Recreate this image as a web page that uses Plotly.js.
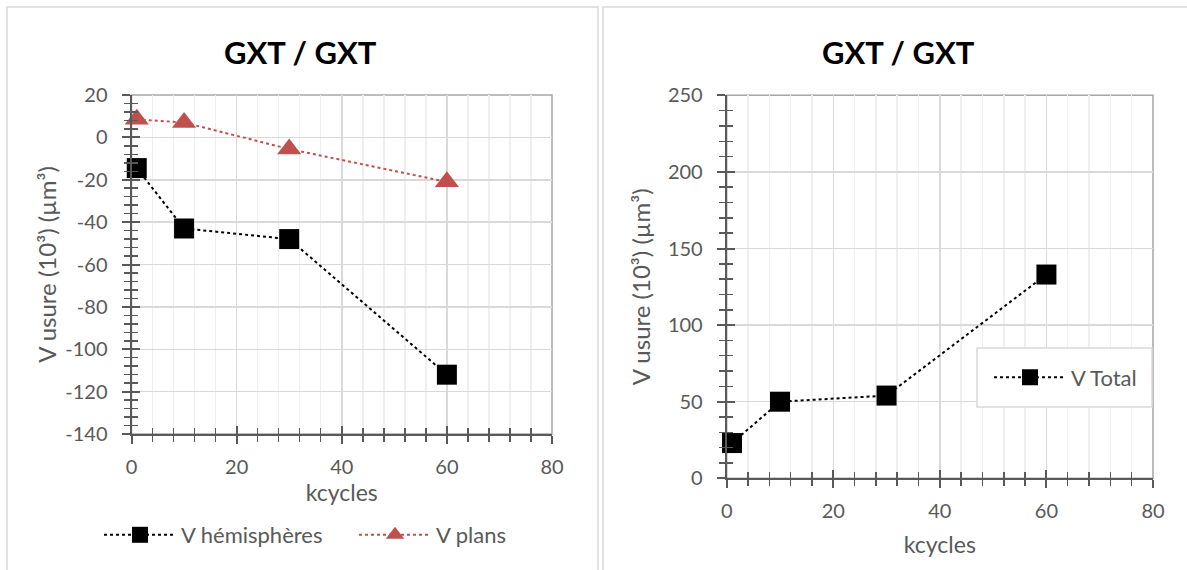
<!DOCTYPE html>
<html>
<head>
<meta charset="utf-8">
<script src="https://cdn.plot.ly/plotly-3.0.1.min.js"></script>
<style>html,body{margin:0;padding:0;background:#fff;}#chart{width:1187px;height:570px;}</style>
</head>
<body>
<div id="chart"></div>
<script>
// ---- data ----
const kcycles = [1, 10, 30, 60];
const vHemispheres = [-14.5, -43, -48, -112];
const vPlans = [8.5, 7, -5.5, -21];
const vTotal = [23, 50, 54, 133];
const leftYTickVals = [-140, -120, -100, -80, -60, -40, -20, 0, 20];
const leftYTickText = ["-140", "-120", "-100", "-80", "-60", "-40", "-20", "0", "20"];
const chartTitle = "GXT / GXT";
const xTitle = "kcycles";
const yTitle = "V usure (10³) (µm³)";
const nameHem = "V hémisphères";
const namePlans = "V plans";
const nameTotal = "V Total";

const FONT = "Lato, 'Open Sans', sans-serif";
const GREY = "#595959";

function W(px){return px/1187;}
function H(px){return 1-px/570;}

const traces = [
  {x:kcycles, y:vHemispheres, name:nameHem, type:'scatter', mode:'lines+markers',
   xaxis:'x', yaxis:'y', cliponaxis:false,
   line:{color:'#000', dash:'dot', width:2},
   marker:{symbol:'square', size:20, color:'#000'}},
  {x:kcycles, y:vPlans, name:namePlans, type:'scatter', mode:'lines+markers',
   xaxis:'x', yaxis:'y', cliponaxis:false,
   line:{color:'#c0504d', dash:'dot', width:2},
   marker:{symbol:'triangle-up', size:21, color:'#c0504d'}},
  {x:kcycles, y:vTotal, name:nameTotal, type:'scatter', mode:'lines+markers',
   xaxis:'x2', yaxis:'y2', cliponaxis:false, legend:'legend2',
   line:{color:'#000', dash:'dot', width:2},
   marker:{symbol:'square', size:20, color:'#000'}},
  // empty helpers so overlay tick axes get drawn
  {x:[], y:[], xaxis:'x3', yaxis:'y3', showlegend:false, hoverinfo:'skip'},
  {x:[], y:[], xaxis:'x4', yaxis:'y4', showlegend:false, hoverinfo:'skip'}
];

function mainX(domain, standoff){
  return {domain:domain, range:[0,80], dtick:20, tick0:0,
    showline:true, linecolor:GREY, linewidth:2,
    ticks:'outside', ticklen:8, tickwidth:2, tickcolor:GREY,
    showgrid:true, gridcolor:'#d9d9d9', gridwidth:1.5, zeroline:false,
    minor:{dtick:4, tick0:0, ticks:'outside', ticklen:6, tickwidth:1.5, tickcolor:GREY,
           showgrid:true, gridcolor:'#efefef', gridwidth:1.5},
    tickfont:{family:FONT, size:20, color:GREY}, ticklabelstandoff:6,
    title:{text:xTitle, font:{family:FONT, size:23, color:GREY}, standoff:standoff},
    fixedrange:true};
}
function mainY(domain, range, dtick, mdtick, anchor, standoff){
  return {domain:domain, range:range, dtick:dtick, anchor:anchor,
    showline:true, linecolor:GREY, linewidth:2,
    ticks:'outside', ticklen:8, tickwidth:2, tickcolor:GREY,
    showgrid:true, gridcolor:'#d9d9d9', gridwidth:1.5, zeroline:false,
    minor:{dtick:mdtick, ticks:'outside', ticklen:6, tickwidth:1.5, tickcolor:GREY, showgrid:false},
    tickfont:{family:FONT, size:20, color:GREY}, ticklabelstandoff:10,
    title:{text:yTitle, font:{family:FONT, size:24, color:GREY}, standoff:standoff},
    fixedrange:true};
}
function overX(over, anchor){
  return {overlaying:over, anchor:anchor, side:'bottom', range:[0,80], dtick:20, tick0:0,
    showline:false, showgrid:false, zeroline:false, showticklabels:false,
    ticks:'inside', ticklen:8, tickwidth:2, tickcolor:GREY,
    minor:{dtick:4, tick0:0, ticks:'inside', ticklen:6, tickwidth:1.5, tickcolor:GREY, showgrid:false},
    fixedrange:true};
}
function overY(over, anchor, range, dtick, mdtick){
  return {overlaying:over, anchor:anchor, side:'left', range:range, dtick:dtick,
    showline:false, showgrid:false, zeroline:false, showticklabels:false,
    ticks:'inside', ticklen:8, tickwidth:2, tickcolor:GREY,
    minor:{dtick:mdtick, ticks:'inside', ticklen:6, tickwidth:1.5, tickcolor:GREY, showgrid:false},
    fixedrange:true};
}

const xd1 = [W(131.5), W(552)], yd1 = [H(434), H(95)];
const xd2 = [W(726.7), W(1153)], yd2 = [H(478.3), H(95.3)];

const yaxis1 = mainY(yd1, [-140,20], 20, 4, 'x', 2);
yaxis1.tickmode = 'array';
yaxis1.tickvals = leftYTickVals;
yaxis1.ticktext = leftYTickText;

const layout = {
  width:1187, height:570, margin:{l:0,r:0,t:0,b:0},
  paper_bgcolor:'#fff', plot_bgcolor:'rgba(0,0,0,0)',
  font:{family:FONT, color:GREY},
  showlegend:true,
  xaxis: Object.assign(mainX(xd1, 4), {anchor:'y'}),
  yaxis: yaxis1,
  xaxis2: Object.assign(mainX(xd2, 16), {anchor:'y2'}),
  yaxis2: mainY(yd2, [0,250], 50, 10, 'x2', 10),
  xaxis3: overX('x', 'y'),
  yaxis3: overY('y', 'x', [-140,20], 20, 4),
  xaxis4: overX('x2', 'y2'),
  yaxis4: overY('y2', 'x2', [0,250], 50, 10),
  legend:{orientation:'h', x:W(99), xanchor:'left', y:H(535), yanchor:'middle',
    font:{family:FONT, size:22, color:GREY}, bgcolor:'rgba(0,0,0,0)',
    itemwidth:72, entrywidth:168, entrywidthmode:'pixels', tracegroupgap:0},
  legend2:{x:W(989), xanchor:'left', y:H(377.5), yanchor:'middle',
    font:{family:FONT, size:22, color:GREY}, bgcolor:'rgba(0,0,0,0)',
    borderwidth:0, itemwidth:72},
  annotations:[
    {text:'<b>'+chartTitle+'</b>', xref:'paper', yref:'paper', x:W(301), y:H(52),
     xanchor:'center', yanchor:'middle', showarrow:false, font:{family:FONT, size:31, color:'#000'}},
    {text:'<b>'+chartTitle+'</b>', xref:'paper', yref:'paper', x:W(898), y:H(52),
     xanchor:'center', yanchor:'middle', showarrow:false, font:{family:FONT, size:31, color:'#000'}}
  ],
  shapes:[
    {type:'rect', xref:'paper', yref:'paper', x0:W(7), x1:W(598), y0:H(600), y1:H(7),
     line:{color:'#d9d9d9', width:1.5}, layer:'below'},
    {type:'rect', xref:'paper', yref:'paper', x0:W(603), x1:W(1200), y0:H(600), y1:H(7),
     line:{color:'#d9d9d9', width:1.5}, layer:'below'},
    {type:'rect', xref:'x domain', yref:'y domain', x0:0, x1:1, y0:0, y1:1,
     line:{color:'#a6a6a6', width:1.5}, layer:'below'},
    {type:'rect', xref:'x2 domain', yref:'y2 domain', x0:0, x1:1, y0:0, y1:1,
     line:{color:'#a6a6a6', width:1.5}, layer:'below'},
    // legend box of right chart
    {type:'rect', xref:'paper', yref:'paper', x0:W(977), x1:W(1152), y0:H(407), y1:H(348),
     line:{color:'#d9d9d9', width:1.5}, fillcolor:'#fff', layer:'above'}
  ]
};

Plotly.newPlot('chart', traces, layout, {displayModeBar:false, staticPlot:true});
</script>
</body>
</html>
